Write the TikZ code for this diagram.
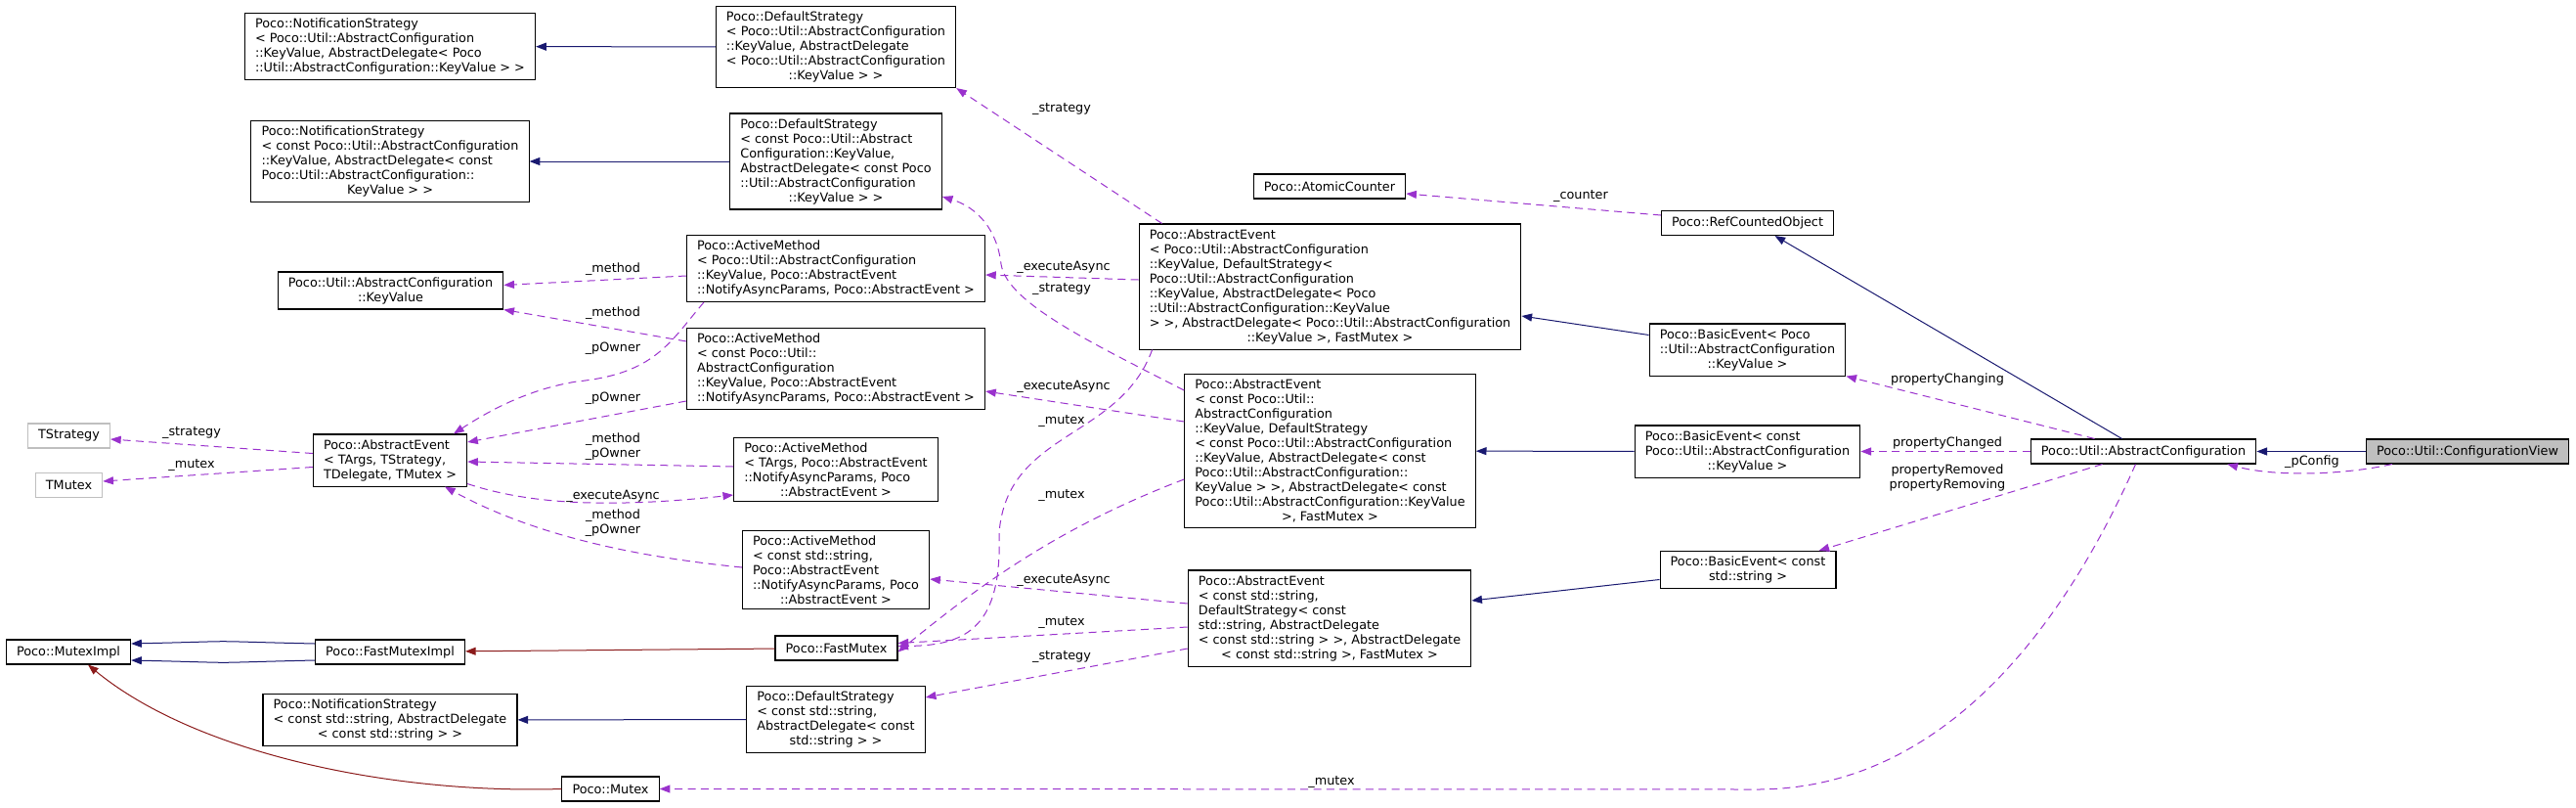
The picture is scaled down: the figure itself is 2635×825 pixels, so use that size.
\documentclass[tikz,border=0pt]{standalone}
\usepackage{fontspec}
\setmainfont{DejaVu Sans}
\usetikzlibrary{arrows.meta,calc}
\definecolor{inhblue}{HTML}{191970}
\definecolor{instred}{HTML}{8B1A1A}
\definecolor{usepurple}{HTML}{9A32CD}
\newcommand{\dxfont}{\fontsize{9.6}{11.25}\selectfont}

\begin{document}
\begin{tikzpicture}[
    x=0.75pt, y=-0.75pt,
    cls/.style={draw=black, line width=0.8pt, fill=white, align=left, inner xsep=8pt, inner ysep=4pt, minimum height=18.75pt, font=\dxfont},
    tparam/.style={cls, draw=gray!50},
    focus/.style={cls, fill=gray!50},
    lbl/.style={inner sep=0pt, align=center, font=\dxfont},
    inherit/.style={-{Triangle[length=8pt,width=6pt]}, line width=0.75pt, color=inhblue},
    inst/.style={-{Triangle[length=8pt,width=6pt]}, line width=0.75pt, color=instred},
    usage/.style={-{Triangle[length=8pt,width=6pt]}, line width=0.75pt, color=usepurple, dash pattern=on 6pt off 4pt}
]
\useasboundingbox (0,0) rectangle (2635,825);

\node[cls] (nsKV) at (399, 47.5) {Poco::NotificationStrategy\\< Poco::Util::AbstractConfiguration\\::KeyValue, AbstractDelegate< Poco\\::Util::AbstractConfiguration::KeyValue > >};
\node[cls] (nsCKV) at (399, 165) {Poco::NotificationStrategy\\< const Poco::Util::AbstractConfiguration\\::KeyValue, AbstractDelegate< const\\ Poco::Util::AbstractConfiguration::\\\hfil KeyValue > >};
\node[cls] (keyValue) at (399.5, 297) {Poco::Util::AbstractConfiguration\\\hfil ::KeyValue};
\node[tparam] (tStrategy) at (70.5, 445.5) {TStrategy};
\node[tparam] (tMutex) at (70.5, 496) {TMutex};
\node[cls] (aeT) at (399, 470.5) {Poco::AbstractEvent\\< TArgs, TStrategy,\\\hfil TDelegate, TMutex >};
\node[cls] (mutexImpl) at (70, 666.5) {Poco::MutexImpl};
\node[cls] (fastMutexImpl) at (399, 666.5) {Poco::FastMutexImpl};
\node[cls] (nsStr) at (399, 736) {Poco::NotificationStrategy\\< const std::string, AbstractDelegate\\\hfil < const std::string > >};
\node[cls] (mutex) at (624.5, 806.5) {Poco::Mutex};

\node[cls] (dsKV) at (855, 48) {Poco::DefaultStrategy\\< Poco::Util::AbstractConfiguration\\::KeyValue, AbstractDelegate\\< Poco::Util::AbstractConfiguration\\\hfil ::KeyValue > >};
\node[cls] (dsCKV) at (855, 165) {Poco::DefaultStrategy\\< const Poco::Util::Abstract\\Configuration::KeyValue,\\ AbstractDelegate< const Poco\\::Util::AbstractConfiguration\\\hfil ::KeyValue > >};
\node[cls] (amKV) at (855, 274.5) {Poco::ActiveMethod\\< Poco::Util::AbstractConfiguration\\::KeyValue, Poco::AbstractEvent\\::NotifyAsyncParams, Poco::AbstractEvent >};
\node[cls] (amCKV) at (855, 377) {Poco::ActiveMethod\\< const Poco::Util::\\AbstractConfiguration\\::KeyValue, Poco::AbstractEvent\\::NotifyAsyncParams, Poco::AbstractEvent >};
\node[cls] (amT) at (855, 480) {Poco::ActiveMethod\\< TArgs, Poco::AbstractEvent\\::NotifyAsyncParams, Poco\\\hfil ::AbstractEvent >};
\node[cls] (amStr) at (855, 582.5) {Poco::ActiveMethod\\< const std::string,\\ Poco::AbstractEvent\\::NotifyAsyncParams, Poco\\\hfil ::AbstractEvent >};
\node[cls] (fastMutex) at (855.5, 662.5) {Poco::FastMutex};
\node[cls] (dsStr) at (855, 735.5) {Poco::DefaultStrategy\\< const std::string,\\ AbstractDelegate< const\\\hfil std::string > >};

\node[cls] (atomicCounter) at (1360, 190.5) {Poco::AtomicCounter};
\node[cls] (aeKV) at (1360.5, 293) {Poco::AbstractEvent\\< Poco::Util::AbstractConfiguration\\::KeyValue, DefaultStrategy<\\ Poco::Util::AbstractConfiguration\\::KeyValue, AbstractDelegate< Poco\\::Util::AbstractConfiguration::KeyValue\\ > >, AbstractDelegate< Poco::Util::AbstractConfiguration\\\hfil ::KeyValue >, FastMutex >};
\node[cls] (aeCKV) at (1360.5, 461) {Poco::AbstractEvent\\< const Poco::Util::\\AbstractConfiguration\\::KeyValue, DefaultStrategy\\< const Poco::Util::AbstractConfiguration\\::KeyValue, AbstractDelegate< const\\ Poco::Util::AbstractConfiguration::\\KeyValue > >, AbstractDelegate< const\\ Poco::Util::AbstractConfiguration::KeyValue\\\hfil >, FastMutex >};
\node[cls] (aeStr) at (1360, 632) {Poco::AbstractEvent\\< const std::string,\\ DefaultStrategy< const\\ std::string, AbstractDelegate\\< const std::string > >, AbstractDelegate\\\hfil < const std::string >, FastMutex >};

\node[cls] (refCounted) at (1787.5, 228) {Poco::RefCountedObject};
\node[cls] (beKV) at (1787.5, 357.5) {Poco::BasicEvent< Poco\\::Util::AbstractConfiguration\\\hfil ::KeyValue >};
\node[cls] (beCKV) at (1787.5, 461.5) {Poco::BasicEvent< const\\ Poco::Util::AbstractConfiguration\\\hfil ::KeyValue >};
\node[cls] (beStr) at (1788, 582.5) {Poco::BasicEvent< const\\\hfil std::string >};
\node[cls] (absConfig) at (2192.5, 461.5) {Poco::Util::AbstractConfiguration};
\node[focus] (confView) at (2524, 461.5) {Poco::Util::ConfigurationView};

\draw[inherit] (dsKV) -- (nsKV);
\draw[inherit] (dsCKV) -- (nsCKV);
\draw[inherit] (dsStr) -- (nsStr);
\draw[inherit] ($(beKV.west)+(0,-15)$) -- ($(aeKV.east)+(0,30)$);
\draw[inherit] (beCKV) -- (aeCKV);
\draw[inherit] ($(beStr.west)+(0,10)$) -- ($(aeStr.east)+(0,-18)$);
\draw[inherit] ($(absConfig.north)+(-22,0)$) -- ($(refCounted.south)+(28,0)$);
\draw[inherit] (confView) -- (absConfig);
\draw[inherit] ($(fastMutexImpl.west)+(0,-8.5)$) .. controls +(-130,-3) and +(130,-3) .. ($(mutexImpl.east)+(0,-8.5)$);
\draw[inherit] ($(fastMutexImpl.west)+(0,8.5)$) .. controls +(-130,3) and +(130,3) .. ($(mutexImpl.east)+(0,8.5)$);

\draw[inst] (fastMutex) -- (fastMutexImpl);
\draw[inst] (mutex.west) .. controls (400,812) and (200,770) .. ($(mutexImpl.south)+(20,0)$);

\draw[usage] ($(aeKV.north west)+(24,0)$) -- (dsKV.south east);
\draw[usage] ($(aeKV.west)+(0,-7)$) -- ($(amKV.east)+(0,6.5)$);
\draw[usage] ($(aeCKV.north west)+(0,17)$) .. controls (1120,352) and (1030,310) .. (1024,270) .. controls (1020,235) and (1000,212) .. ($(dsCKV.east)+(0,36)$);
\draw[usage] ($(aeCKV.west)+(0,-30)$) -- ($(amCKV.east)+(0,23)$);
\draw[usage] ($(aeKV.south west)+(14,0)$) .. controls (1145,450) and (1030,440) .. (1022,545) .. controls (1025,640) and (990,660) .. ($(fastMutex.east)+(0,-2)$);
\draw[usage] ($(aeCKV.west)+(0,29)$) .. controls (1080,540) and (1000,600) .. ($(fastMutex.east)+(0,4)$);
\draw[usage] ($(aeStr.west)+(0,-15)$) -- ($(amStr.east)+(0,9.5)$);
\draw[usage] ($(aeStr.west)+(0,9)$) -- ($(fastMutex.east)+(0,-5)$);
\draw[usage] ($(aeStr.west)+(0,31)$) -- ($(dsStr.north east)+(0,12)$);

\draw[usage] ($(aeT.west)+(0,-7)$) -- ($(tStrategy.east)+(0,3.5)$);
\draw[usage] ($(aeT.west)+(0,7)$) -- ($(tMutex.east)+(0,-4)$);
\draw[usage] ($(amKV.west)+(0,7.5)$) -- ($(keyValue.north east)+(0,14)$);
\draw[usage] ($(amCKV.north west)+(0,14)$) -- (keyValue.south east);
\draw[usage] ($(amKV.south west)+(18,0)$) .. controls (685,350) and (670,382) .. (590,390) .. controls (540,398) and (500,420) .. ($(aeT.north)+(65,0)$);
\draw[usage] ($(amCKV.west)+(0,33)$) -- ($(aeT.east)+(0,-18.5)$);
\draw[usage] ($(amT.west)+(0,-3)$) -- ($(aeT.east)+(0,1.5)$);
\draw[usage] ($(aeT.south east)+(0,-3)$) .. controls (540,515) and (620,520) .. ($(amT.west)+(0,26)$);
\draw[usage] ($(amStr.west)+(0,-2.5)$) .. controls (680,572) and (560,555) .. ($(aeT.south)+(56,0)$);

\draw[usage] ($(refCounted.west)+(0,-8)$) -- ($(atomicCounter.east)+(0,7.5)$);
\draw[usage] ($(absConfig.north)+(-50,0)$) -- (beKV.south east);
\draw[usage] (absConfig) -- (beCKV);
\draw[usage] ($(absConfig.south)+(-42,0)$) -- ($(beStr.north east)+(-18,0)$);
\draw[usage] ($(confView.south west)+(27,0)$) .. controls (2400,485) and (2330,488) .. ($(absConfig.south east)+(-30,0)$);
\draw[usage] ($(absConfig.south)+(-8,0)$) .. controls (2120,620) and (2000,805) .. (1800,807) -- (mutex.east);

\node[lbl] (lStrategyKV) at (1086, 112) {\_strategy};
\node[lbl] (lExecKV) at (1088, 273) {\_executeAsync};
\node[lbl] (lStrategyCKV) at (1086, 296) {\_strategy};
\node[lbl] (lExecCKV) at (1088, 395) {\_executeAsync};
\node[lbl] (lMutexKV) at (1086, 431) {\_mutex};
\node[lbl] (lMutexCKV) at (1086, 507) {\_mutex};
\node[lbl] (lExecStr) at (1088, 593) {\_executeAsync};
\node[lbl] (lMutexStr) at (1086, 637) {\_mutex};
\node[lbl] (lStrategyStr) at (1086, 672) {\_strategy};
\node[lbl] (lMethodKV) at (627, 275) {\_method};
\node[lbl] (lMethodCKV) at (627, 320) {\_method};
\node[lbl] (lOwnerKV) at (627, 356) {\_pOwner};
\node[lbl] (lOwnerCKV) at (627, 407) {\_pOwner};
\node[lbl] (lMethodOwnerT) at (627, 457) {\_method\\\_pOwner};
\node[lbl] (lExecT) at (627, 507) {\_executeAsync};
\node[lbl] (lMethodOwnerStr) at (627, 535) {\_method\\\_pOwner};
\node[lbl] (lTStrategy) at (196, 443) {\_strategy};
\node[lbl] (lTMutex) at (196, 476) {\_mutex};
\node[lbl] (lCounter) at (1617, 201) {\_counter};
\node[lbl] (lChanging) at (1992, 388) {propertyChanging};
\node[lbl] (lChanged) at (1992, 453) {propertyChanged};
\node[lbl] (lRemoved) at (1992, 488) {propertyRemoved\\propertyRemoving};
\node[lbl] (lConfig) at (2365, 472) {\_pConfig};
\node[lbl] (lMutexAC) at (1362, 800) {\_mutex};

\end{tikzpicture}
\end{document}
